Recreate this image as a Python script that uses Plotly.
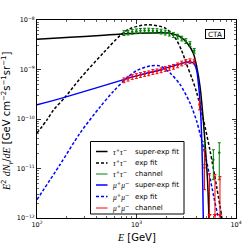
import plotly.graph_objects as go

# ---------------- fit curves ----------------
E_tau_sexp = [100, 215, 430, 766, 1367, 2173, 2737, 3241, 3724, 4027, 4350, 4690, 4938, 5171, 5353, 5420]
F_tau_sexp = [4.08e-9, 4.48e-9, 4.86e-9, 5.27e-9, 5.47e-9, 5.39e-9, 4.60e-9, 3.39e-9, 2.13e-9,
              1.14e-9, 4.52e-10, 9.6e-11, 2.39e-11, 5.94e-12, 1.02e-12, 5.9e-13]

E_tau_exp = [100, 126, 147, 192, 270, 468, 687, 860, 1276, 1933, 2437, 2845, 3197, 3614, 4027,
             4690, 5480, 6400, 7180, 7500]
F_tau_exp = [5.2e-11, 9.6e-11, 1.53e-10, 2.77e-10, 6.5e-10, 2.2e-9, 4.9e-9, 6.7e-9, 8.0e-9, 6.9e-9,
             4.4e-9, 2.4e-9, 1.25e-9, 6.6e-10, 3.4e-10, 1.0e-10, 2.3e-11, 4.2e-12, 1.05e-12, 4e-13]

E_mu_sexp = [100, 192, 715, 1084, 1722, 2737, 3450, 3783, 4027, 4200, 4350, 4500, 4600, 4690, 4720]
F_mu_sexp = [1.93e-10, 2.77e-10, 6.1e-10, 7.78e-10, 9.8e-10, 1.30e-9, 1.44e-9, 1.32e-9, 9.5e-10,
             5.0e-10, 2.2e-10, 5.5e-11, 1.1e-11, 1.0e-12, 5e-13]

E_mu_exp = [100, 170, 270, 430, 585, 796, 1004, 1367, 1722, 2173, 2737, 3450, 4027, 4350, 4900,
            5400, 6000, 6700, 7000]
F_mu_exp = [2.35e-12, 1.19e-11, 5.15e-11, 1.75e-10, 3.6e-10, 6.7e-10, 9.5e-10, 1.18e-9, 1.18e-9,
            8.5e-10, 5.0e-10, 2.1e-10, 9.0e-11, 5.0e-11, 1.9e-11, 7.5e-12, 2.6e-12, 9.0e-13, 5e-13]

# ---------------- simulated channel data points ----------------
E_pts = [748, 823, 906, 997, 1096, 1206, 1327, 1460, 1607, 1767, 1944, 2139, 2353, 2589, 2849,
         3134, 3448, 3802]
F_tau_pts = [5.47e-9, 5.60e-9, 5.81e-9, 5.94e-9, 6.05e-9, 6.14e-9, 6.14e-9, 6.08e-9, 6.00e-9,
             5.86e-9, 5.60e-9, 5.34e-9, 4.99e-9, 4.65e-9, 4.24e-9, 3.77e-9, 3.28e-9, 2.40e-9]
F_mu_pts = [6.08e-10, 6.56e-10, 7.10e-10, 7.43e-10, 7.78e-10, 8.15e-10, 8.41e-10, 8.95e-10,
            9.24e-10, 9.68e-10, 1.03e-9, 1.08e-9, 1.14e-9, 1.22e-9, 1.33e-9, 1.43e-9, 1.48e-9, 1.45e-9]
REL_ERR = 0.11

# tail points near the cut-off
E_tau_tail = [4820, 5920, 6790]
F_tau_tail = [2.39e-11, 1.5e-11, 2.08e-11]
F_tau_tail_hi = [3.47e-11, 2.39e-11, 3.31e-11]
F_tau_tail_lo = [1.19e-11, 5.94e-12, 5.94e-12]

E_mu_tail = [4295, 4820]
F_mu_tail = [1.93e-10, 1.04e-11]
F_mu_tail_hi = [2.44e-10, 2.39e-11]
F_mu_tail_lo = [1.53e-10, 3.74e-12]

# upper-limit style bars reaching the bottom of the axis
E_mu_ul = [5420, 6150, 6900]
F_mu_ul = [7.85e-12, 7.5e-12, 6.84e-12]
F_arrow = 1.15e-12
F_floor = 1e-14

# ---------------- axes ticks ----------------
x_tickvals = [1e2, 1e3, 1e4]
x_ticktext = ["10<sup>2</sup>", "10<sup>3</sup>", "10<sup>4</sup>"]
y_tickvals = [1e-12, 1e-11, 1e-10, 1e-9, 1e-8]
y_ticktext = ["10<sup>−12</sup>", "10<sup>−11</sup>", "10<sup>−10</sup>", "10<sup>−9</sup>", "10<sup>−8</sup>"]
x_minor = [m * 10 ** d for d in (2, 3) for m in range(2, 10)]
y_minor = [m * 10.0 ** d for d in (-12, -11, -10, -9) for m in range(2, 10)]

BLACK, BLUE, GREEN, RED = "#000000", "#0000ff", "#008000", "#ff0000"
DASH = "3px,2px"

fig = go.Figure()


def fit_line(E, F, color, dash):
    fig.add_trace(go.Scatter(x=E, y=F, mode="lines",
                             line=dict(color=color, width=1.5, dash=dash, shape="spline", smoothing=0.8),
                             hoverinfo="skip"))


fit_line(E_tau_exp, F_tau_exp, BLACK, DASH)
fit_line(E_mu_exp, F_mu_exp, BLUE, DASH)
fit_line(E_tau_sexp, F_tau_sexp, BLACK, "solid")
fit_line(E_mu_sexp, F_mu_sexp, BLUE, "solid")


def points(E, F, hi, lo, color):
    fig.add_trace(go.Scatter(
        x=E, y=F, mode="markers",
        marker=dict(color=color, size=2.5),
        error_y=dict(type="data", symmetric=False,
                     array=[h - f for h, f in zip(hi, F)],
                     arrayminus=[f - l for f, l in zip(F, lo)],
                     color=color, thickness=1, width=1.5),
        hoverinfo="skip"))


points(E_pts, F_tau_pts, [f * (1 + REL_ERR) for f in F_tau_pts], [f * (1 - REL_ERR) for f in F_tau_pts], GREEN)
points(E_pts, F_mu_pts, [f * (1 + REL_ERR) for f in F_mu_pts], [f * (1 - REL_ERR) for f in F_mu_pts], RED)
points(E_tau_tail, F_tau_tail, F_tau_tail_hi, F_tau_tail_lo, GREEN)
points(E_mu_tail, F_mu_tail, F_mu_tail_hi, F_mu_tail_lo, RED)

fig.add_trace(go.Scatter(
    x=E_mu_ul, y=F_mu_ul, mode="markers", marker=dict(color=RED, size=1),
    error_y=dict(type="data", symmetric=False, array=[0] * len(F_mu_ul),
                 arrayminus=[f - F_floor for f in F_mu_ul], color=RED, thickness=1, width=1.5),
    hoverinfo="skip"))
fig.add_trace(go.Scatter(
    x=E_mu_ul, y=[F_arrow] * len(E_mu_ul), mode="markers",
    marker=dict(color=RED, size=4, symbol="triangle-down"), hoverinfo="skip"))

# ---------------- layout ----------------
L, R, T, B = 37, 13, 20, 31
W = H = 249
PW, PH = W - L - R, H - T - B


def px(x):
    return (x - L) / PW


def py(y):
    return (H - B - y) / PH


fig.update_layout(
    width=W, height=H, margin=dict(l=L, r=R, t=T, b=B, autoexpand=False),
    paper_bgcolor="white", plot_bgcolor="white", showlegend=False,
    font=dict(family="DejaVu Sans", size=7, color="black"),
)
axis_common = dict(type="log", ticks="inside", ticklen=4, tickwidth=0.8, tickcolor="black",
                   showline=True, linecolor="black", linewidth=1, mirror="allticks", automargin=False,
                   showgrid=False, zeroline=False, tickfont=dict(size=6.5, family="DejaVu Sans"))
fig.update_xaxes(range=[2, 4], tickvals=x_tickvals, ticktext=x_ticktext,
                 minor=dict(tickvals=x_minor, ticks="inside", ticklen=2, tickwidth=0.6,
                            tickcolor="black", showgrid=False), **axis_common)
fig.update_yaxes(range=[-12, -8], tickvals=y_tickvals, ticktext=y_ticktext,
                 minor=dict(tickvals=y_minor, ticks="inside", ticklen=2, tickwidth=0.6,
                            tickcolor="black", showgrid=False), **axis_common)

MATH = "font-family:'Liberation Serif'"


def m(s):
    return f"<span style=\"{MATH}\"><i>{s}</i></span>"


shapes = []
annotations = []

# legend box (drawn by hand to match compact rows)
shapes.append(dict(type="rect", xref="paper", yref="paper", x0=px(90.5), x1=px(184),
                   y0=py(214), y1=py(141.5), line=dict(color="black", width=1), fillcolor="white"))
legend_rows = [
    (BLACK, "solid", 1.5, m("τ") + "<sup>+</sup>" + m("τ") + "<sup>−</sup>", "super-exp fit"),
    (BLACK, DASH, 1.5, m("τ") + "<sup>+</sup>" + m("τ") + "<sup>−</sup>", "exp fit"),
    (GREEN, "solid", 1, m("τ") + "<sup>+</sup>" + m("τ") + "<sup>−</sup>", "channel"),
    (BLUE, "solid", 1.5, m("μ") + "<sup>+</sup>" + m("μ") + "<sup>−</sup>", "super-exp fit"),
    (BLUE, DASH, 1.5, m("μ") + "<sup>+</sup>" + m("μ") + "<sup>−</sup>", "exp fit"),
    (RED, "solid", 1, m("μ") + "<sup>+</sup>" + m("μ") + "<sup>−</sup>", "channel"),
]
row_y = [151.5, 163, 174, 185, 196.5, 208]
for (col, dash, wid, sym, lab), yy in zip(legend_rows, row_y):
    shapes.append(dict(type="line", xref="paper", yref="paper", x0=px(96), x1=px(107.5),
                       y0=py(yy), y1=py(yy), line=dict(color=col, width=wid, dash=dash)))
    annotations.append(dict(text=sym, xref="paper", yref="paper", x=px(110.5), y=py(yy),
                            xanchor="left", yanchor="middle", showarrow=False,
                            font=dict(size=7.5)))
    annotations.append(dict(text=lab, xref="paper", yref="paper", x=px(132.8), y=py(yy),
                            xanchor="left", yanchor="middle", showarrow=False,
                            font=dict(size=7)))

# CTA box
annotations.append(dict(text="CTA", xref="paper", yref="paper", x=px(214.5), y=py(34),
                        xanchor="center", yanchor="middle", showarrow=False,
                        width=18, height=8, borderpad=0, bordercolor="black", borderwidth=1,
                        bgcolor="white", font=dict(size=7.2)))

# axis titles
annotations.append(dict(text=m("E") + " [GeV]", xref="paper", yref="paper", x=px(136.5), y=py(237),
                        xanchor="center", yanchor="middle", showarrow=False, font=dict(size=10)))
annotations.append(dict(
    text=m("E") + "<sup>2</sup> " + m("dN") + "<sub>" + m("γ") + "</sub>/" + m("dE")
         + " [GeV cm<sup>−2</sup>s<sup>−1</sup>sr<sup>−1</sup>]",
    xref="paper", yref="paper", x=px(7), y=py(122), xanchor="center", yanchor="middle",
    textangle=-90, showarrow=False, font=dict(size=10)))

fig.update_layout(shapes=shapes, annotations=annotations)
fig.write_html("out.html", config={"displayModeBar": False, "staticPlot": True},
               post_script="document.body.style.margin='0';document.body.style.padding='0';"
                           "document.body.style.overflow='hidden';")
